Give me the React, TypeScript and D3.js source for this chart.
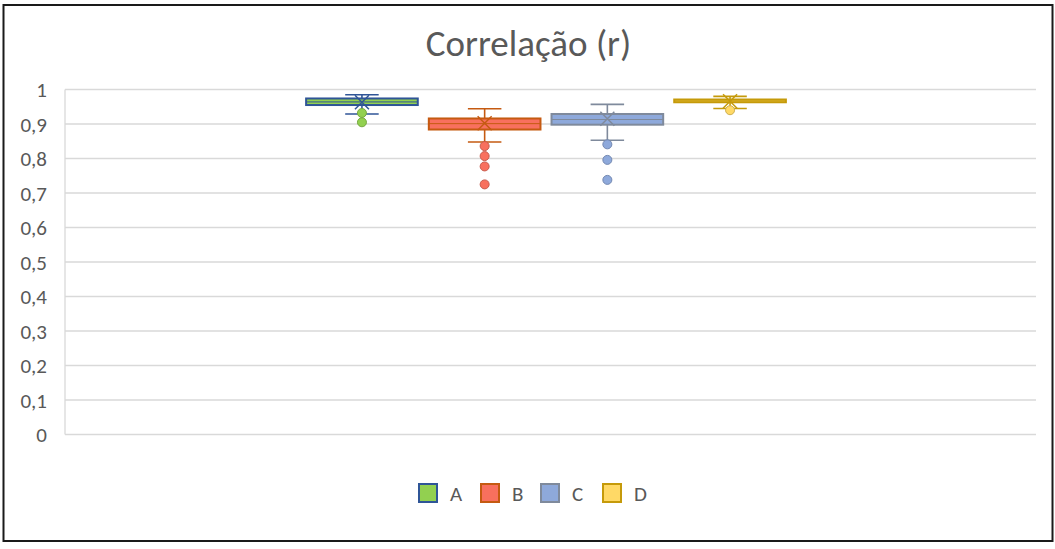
import React, { FC, useMemo } from "react";
/* @ts-ignore */
import * as d3 from "d3";

// series summary
const seriesNames = ["A", "B", "C", "D"];
const lowWhisker = [0.929, 0.848, 0.853, 0.945];
const q1Values = [0.955, 0.884, 0.898, 0.963];
const medianValues = [0.964, 0.901, 0.913, 0.967];
const q3Values = [0.974, 0.916, 0.929, 0.971];
const highWhisker = [0.985, 0.944, 0.957, 0.98];
const meanValues = [0.963, 0.902, 0.915, 0.966];
const outliersA = [0.932, 0.905];
const outliersB = [0.836, 0.807, 0.777, 0.725];
const outliersC = [0.841, 0.796, 0.738];
const outliersD = [0.94];
const outlierSets = [outliersA, outliersB, outliersC, outliersD];

const fills = ["#92D050", "#F8705E", "#8EA9DB", "#FFD966"];
const strokes = ["#2F5597", "#C55A11", "#7F8A9C", "#C59A0A"];

const yTickValues = [0, 0.1, 0.2, 0.3, 0.4, 0.5, 0.6, 0.7, 0.8, 0.9, 1];

const font = "Calibri, Carlito, Lato, sans-serif";
const textColor = "#595959";

const W = 1055;
const H = 549;
const plotLeft = 65;
const plotRight = 1036;
const plotTop = 89.5;
const plotBottom = 434.5;

const ptFormat = d3.formatLocale({
    decimal: ",",
    thousands: ".",
    grouping: [3],
    currency: ["", ""],
}).format("~g");

const App: FC = () => {
    const y = useMemo(
        () => d3.scaleLinear([0, 1], [plotBottom, plotTop]),
        []
    );

    // one category, the four series grouped in its middle
    const cat = useMemo(
        () => d3.scaleBand(["r"], [plotLeft, plotRight - 9]).paddingOuter(0.48),
        []
    );
    const x = useMemo(
        () =>
            d3
                .scaleBand(seriesNames, [cat("r"), cat("r") + cat.bandwidth()])
                .paddingInner(0.09)
                .paddingOuter(0.045),
        [cat]
    );
    const bw = x.bandwidth();

    return (
        <svg
            width={W}
            height={H}
            style={{ position: "absolute", left: 0, top: 0, background: "#fff" }}
        >
            <rect x={0} y={0} width={W} height={H} fill="#fff" />
            <rect
                x={3.5}
                y={5}
                width={1049}
                height={536}
                fill="#fff"
                stroke="#1a1a1a"
                strokeWidth={2}
            />
            <text
                x={528.5}
                y={56}
                textAnchor="middle"
                fontFamily={font}
                fontSize={37}
                fill={textColor}
            >
                Correlação (r)
            </text>

            {/* gridlines + y labels */}
            <g>
                {yTickValues.map((t) => (
                    <g key={t}>
                        <line
                            x1={plotLeft}
                            x2={plotRight}
                            y1={y(t)}
                            y2={y(t)}
                            stroke="#D9D9D9"
                            strokeWidth={1.3}
                        />
                        <text
                            x={47}
                            y={y(t)}
                            dy="0.36em"
                            textAnchor="end"
                            fontFamily={font}
                            fontSize={21}
                            fill={textColor}
                        >
                            {ptFormat(t)}
                        </text>
                    </g>
                ))}
                <line
                    x1={plotLeft}
                    x2={plotLeft}
                    y1={plotTop}
                    y2={plotBottom}
                    stroke="#D9D9D9"
                    strokeWidth={1.3}
                />
            </g>

            {/* boxes */}
            {seriesNames.map((s, i) => {
                const x0 = x(s) as number;
                const cx = x0 + bw / 2;
                const capW = bw * 0.3;
                const col = strokes[i];
                const ms = 7;
                const my = y(meanValues[i]);
                return (
                    <g key={s}>
                        <line x1={cx} x2={cx} y1={y(highWhisker[i])} y2={y(q3Values[i])} stroke={col} strokeWidth={1.6} />
                        <line x1={cx} x2={cx} y1={y(q1Values[i])} y2={y(lowWhisker[i])} stroke={col} strokeWidth={1.6} />
                        <line x1={cx - capW / 2} x2={cx + capW / 2} y1={y(highWhisker[i])} y2={y(highWhisker[i])} stroke={col} strokeWidth={1.6} />
                        <line x1={cx - capW / 2} x2={cx + capW / 2} y1={y(lowWhisker[i])} y2={y(lowWhisker[i])} stroke={col} strokeWidth={1.6} />
                        <rect
                            x={x0}
                            y={y(q3Values[i])}
                            width={bw}
                            height={y(q1Values[i]) - y(q3Values[i])}
                            fill={fills[i]}
                            stroke={col}
                            strokeWidth={2}
                        />
                        <line x1={x0} x2={x0 + bw} y1={y(medianValues[i])} y2={y(medianValues[i])} stroke={col} strokeWidth={1} />
                        {outlierSets[i].map((v, j) => (
                            <circle
                                key={j}
                                cx={cx}
                                cy={y(v)}
                                r={4.5}
                                fill={fills[i]}
                                stroke={d3.color(fills[i]).darker(0.6).formatHex()}
                                strokeWidth={1}
                            />
                        ))}
                        <path
                            d={`M${cx - ms},${my - ms}L${cx + ms},${my + ms}M${cx - ms},${my + ms}L${cx + ms},${my - ms}`}
                            stroke={col}
                            strokeWidth={1.5}
                            fill="none"
                        />
                    </g>
                );
            })}

            {/* legend */}
            <g fontFamily={font} fontSize={21} fill={textColor}>
                {seriesNames.map((s, i) => {
                    const lx = [419, 481, 541, 603][i];
                    return (
                        <g key={s} transform={`translate(${lx},484)`}>
                            <rect x={0} y={0} width={18} height={18} fill={fills[i]} stroke={strokes[i]} strokeWidth={2} />
                            <text x={31} y={16.5}>{s}</text>
                        </g>
                    );
                })}
            </g>
        </svg>
    );
};

export default App;
